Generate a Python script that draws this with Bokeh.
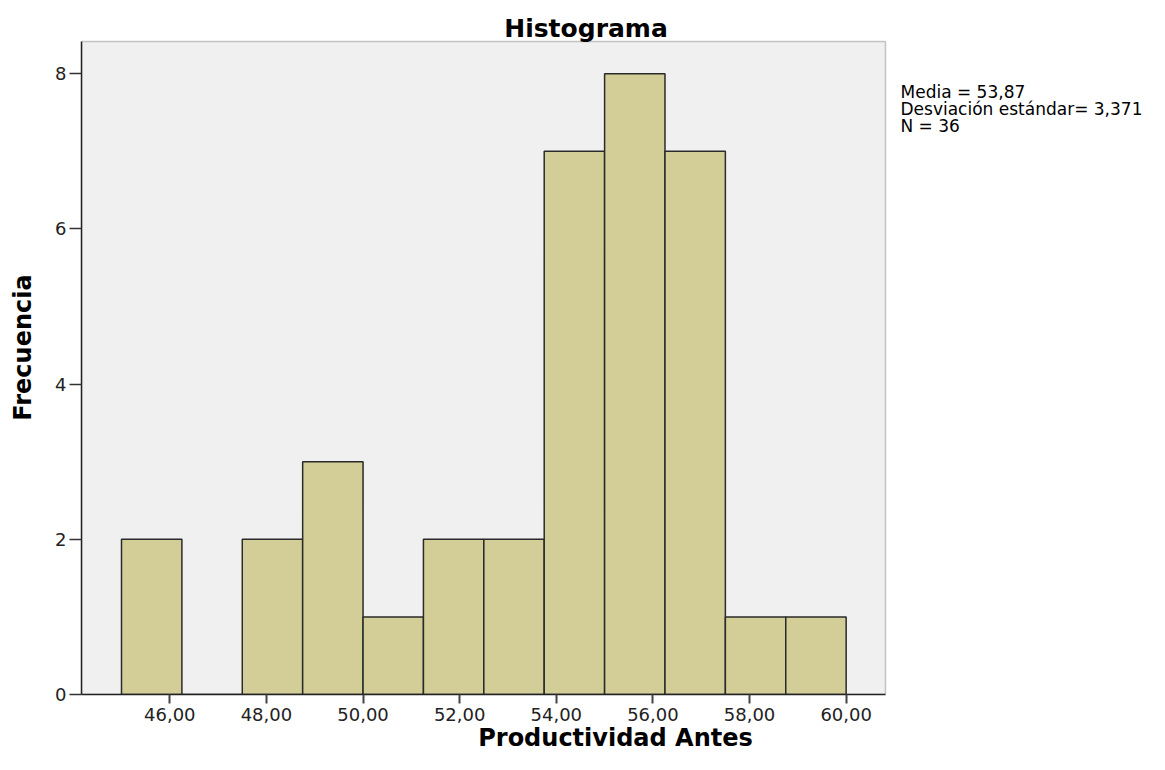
from bokeh.plotting import figure
from bokeh.models import Range1d, FixedTicker, Label, BoxAnnotation
from bokeh.embed import file_html
from bokeh.resources import INLINE

# ---- data ----
bin_left = [45.00, 46.25, 47.50, 48.75, 50.00, 51.25, 52.50, 53.75, 55.00, 56.25, 57.50, 58.75]
bin_right = [46.25, 47.50, 48.75, 50.00, 51.25, 52.50, 53.75, 55.00, 56.25, 57.50, 58.75, 60.00]
counts = [2, 0, 2, 3, 1, 2, 2, 7, 8, 7, 1, 1]
x_ticks = [46, 48, 50, 52, 54, 56, 58, 60]
x_tick_labels = ["46,00", "48,00", "50,00", "52,00", "54,00", "56,00", "58,00", "60,00"]
y_ticks = [0, 2, 4, 6, 8]
y_tick_labels = ["0", "2", "4", "6", "8"]
title_text = "Histograma"
x_label = "Productividad Antes"
y_label = "Frecuencia"
stats_lines = ["Media = 53,87", "Desviación estándar= 3,371", "N = 36"]

# ---- layout (canvas pixels) ----
W, H = 1149, 754
FL, FB = 81, 694            # frame left / bottom; frame extends to top and right canvas edges
PX_X, PX_Y = 48.31, 77.59   # pixels per data unit
X0 = 44.172                 # data x at plot-area left
PA_R = 885                  # plot-area right edge (px)
PA_T = 41                   # plot-area top edge (px)
X1 = X0 + (W - FL) / PX_X
Y1 = FB / PX_Y
pa_right = X0 + (PA_R - FL) / PX_X
pa_top = (FB - PA_T) / PX_Y

def dx(cx):
    return X0 + (cx - FL) / PX_X
def dy(cy):
    return (FB - cy) / PX_Y

p = figure(width=W, height=H, output_backend="svg", toolbar_location=None,
           x_range=Range1d(X0, X1), y_range=Range1d(0, Y1),
           min_border_left=FL, min_border_right=0,
           min_border_top=0, min_border_bottom=H - FB)
p.background_fill_color = "white"
p.border_fill_color = "white"
p.outline_line_color = None
p.grid.visible = False

p.add_layout(BoxAnnotation(left=X0, right=pa_right, bottom=0, top=pa_top,
                           fill_color="#f0f0f0", fill_alpha=1.0,
                           line_color="#4d4d4d", line_width=1.5, level="underlay"))

p.quad(left=bin_left, right=bin_right, bottom=0, top=counts,
       fill_color="#d3ce97", line_color="#2a2a2a", line_width=1.5)

xa = p.xaxis[0]
xa.bounds = (X0, pa_right)
xa.ticker = FixedTicker(ticks=x_ticks)
xa.major_label_overrides = {t: l for t, l in zip(x_ticks, x_tick_labels)}
xa.minor_tick_line_color = None
xa.major_tick_out = 9
xa.major_tick_in = 0
xa.major_tick_line_color = "#444444"
xa.major_tick_line_width = 2
xa.axis_line_color = "#222222"
xa.axis_line_width = 1.5
xa.major_label_standoff = 4
xa.major_label_text_font = "DejaVu Sans"
xa.major_label_text_font_size = "18px"
xa.major_label_text_color = "#222222"
xa.axis_label = x_label
xa.axis_label_text_font = "DejaVu Sans"
xa.axis_label_text_font_style = "bold"
xa.axis_label_text_font_size = "24px"
xa.axis_label_text_color = "black"
xa.axis_label_standoff = 0

ya = p.yaxis[0]
ya.bounds = (0, pa_top)
ya.ticker = FixedTicker(ticks=y_ticks)
ya.major_label_overrides = {t: l for t, l in zip(y_ticks, y_tick_labels)}
ya.minor_tick_line_color = None
ya.major_tick_out = 12
ya.major_tick_in = 0
ya.major_tick_line_color = "#333333"
ya.major_tick_line_width = 1.5
ya.axis_line_color = "#222222"
ya.axis_line_width = 1.5
ya.major_label_standoff = 3
ya.major_label_text_font = "DejaVu Sans"
ya.major_label_text_font_size = "18px"
ya.major_label_text_color = "#222222"
ya.axis_label = y_label
ya.axis_label_text_font = "DejaVu Sans"
ya.axis_label_text_font_style = "bold"
ya.axis_label_text_font_size = "24px"
ya.axis_label_text_color = "black"
ya.axis_label_standoff = 15

p.add_layout(Label(x=dx(585.5), y=dy(28), text=title_text, text_align="center",
                   text_baseline="alphabetic", text_font="DejaVu Sans",
                   text_font_style="bold", text_font_size="25px", text_color="black"))
for i, line in enumerate(stats_lines):
    p.add_layout(Label(x=dx(900), y=dy(91 + 17 * i), text=line, text_align="left",
                       text_baseline="alphabetic", text_font="DejaVu Sans",
                       text_font_size="17px", text_color="black"))

open("out.html", "w").write(file_html(p, INLINE))
